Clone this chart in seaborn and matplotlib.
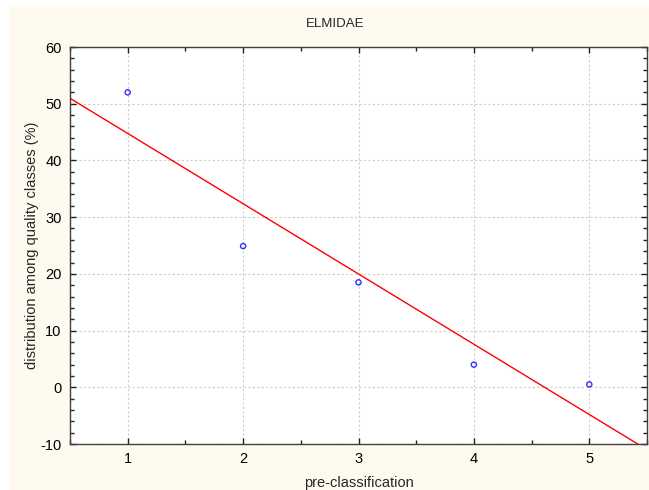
import matplotlib
matplotlib.use("Agg")
import matplotlib.pyplot as plt
from matplotlib.patches import Rectangle
from matplotlib.ticker import MultipleLocator
import seaborn as sns
import pandas as pd

# values
pre_class = [1, 2, 3, 4, 5]
distribution = [52.0, 24.9, 18.5, 4.0, 0.5]
title = "ELMIDAE"

sns.set_style("ticks")
plt.rcParams['font.family'] = ['Liberation Sans', 'DejaVu Sans']
plt.rcParams['axes.unicode_minus'] = False

df = pd.DataFrame({"pre-classification": pre_class,
                   "distribution among quality classes (%)": distribution})

fig = plt.figure(figsize=(6.49, 4.90), dpi=100)
fig.patch.set_facecolor("white")
# beige panel behind the plot
fig.patches.append(Rectangle((9/649, 0), 1, 1 - 7/490, transform=fig.transFigure,
                             facecolor="#FEFAF0", edgecolor="none", zorder=-1))

ax = fig.add_axes([70/649, 46/490, 577/649, 397/490])
ax.set_facecolor("white")
ax.set_xlim(0.5, 5.5)
ax.set_ylim(-10, 60)

sns.regplot(data=df, x="pre-classification",
            y="distribution among quality classes (%)",
            ax=ax, ci=None, truncate=False,
            scatter_kws=dict(s=14, facecolors="none", edgecolors="#0000FF",
                             linewidths=1.0, zorder=3),
            line_kws=dict(color="#FF0000", lw=1.0, zorder=2))
ax.set_xlim(0.5, 5.5)
ax.set_ylim(-10, 60)

ax.xaxis.set_major_locator(MultipleLocator(1))
ax.xaxis.set_minor_locator(MultipleLocator(0.5))
ax.yaxis.set_major_locator(MultipleLocator(10))
ax.yaxis.set_minor_locator(MultipleLocator(2))

ax.grid(True, which="major", color="#CCCCCC", linestyle=(0, (2, 2)), lw=0.8)
ax.tick_params(which="both", direction="in", top=True, right=True,
               colors="#202020", labelcolor="black", labelsize=10.5)
ax.tick_params(which="major", length=4, width=1, pad=6)
ax.tick_params(which="minor", length=3, width=1)
for s in ax.spines.values():
    s.set_color("#404040")
    s.set_linewidth(1)

ax.set_xlabel("pre-classification", fontsize=10.5, labelpad=7)
ax.set_ylabel("distribution among quality classes (%)", fontsize=10.5, labelpad=1)
fig.text(335/649, 1 - 24/490, title, ha="center", va="center", fontsize=9.5)

fig.savefig("out.png", dpi=100, facecolor=fig.get_facecolor())
